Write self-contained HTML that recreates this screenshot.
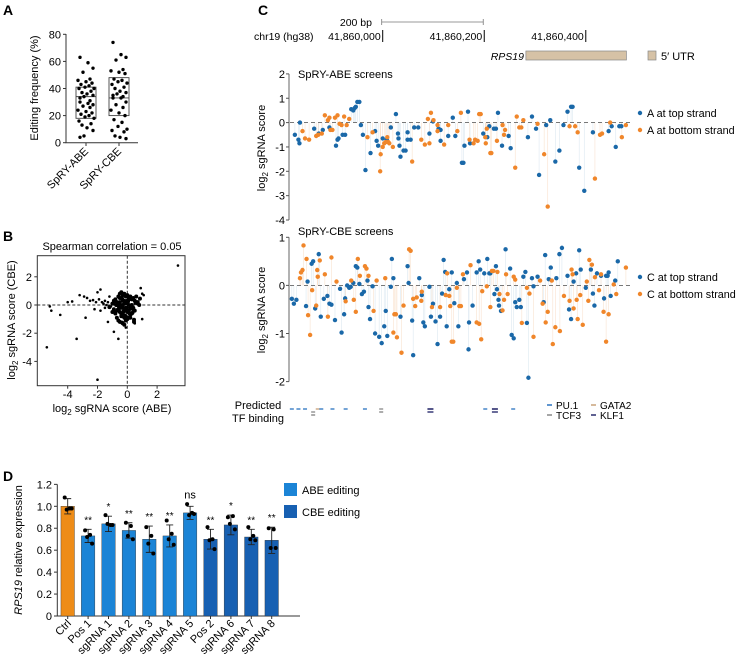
<!DOCTYPE html>
<html><head><meta charset="utf-8">
<style>
html,body{margin:0;padding:0;background:#fff;}
svg{display:block;font-family:"Liberation Sans",Arial,sans-serif;}
</style></head>
<body>
<svg id="fig" width="740" height="661" viewBox="0 0 740 661" xmlns="http://www.w3.org/2000/svg">
<g font-weight="bold" font-size="14" fill="#000">
<text x="3" y="15">A</text>
<text x="3" y="241">B</text>
<text x="258" y="15">C</text>
<text x="3" y="481">D</text>
</g>
<g id="pa"></g>
<g id="pb"></g>
<g id="pc"></g>
<g id="pd"></g>
</svg>
<script>
// ---------- Panel A data ----------
const aCategories = ["SpRY-ABE","SpRY-CBE"];
const aAbeValues = [63,59,55,52,47,46,45,44,43,42,41,40,40,38,37,36,35,34,33,31,30,29,28,27,26,24,23,22,21,20,19,18,16,14,13,11,9,5,4];
const aCbeValues = [74,65,63,61,54,53,52,51,47,46,45,44,43,41,40,38,37,36,35,34,33,33,30,28,26,24,22,20,17,15,12,10,9,8,5,4,3];
const aBoxLow = [18,20];
const aBoxMed = [34,33];
const aBoxHigh = [41,48];
const aTicks = [0,20,40,60,80];

// ---------- Panel B data ----------
const bX = [-2.9,-2.7,-2.5,-2.3,-2.1,-2.0,-1.9,-1.8,-1.7,-1.6,-1.5,-1.4,-1.3,-1.2,-1.1,-2.2,-1.8,-1.5,-1.3,-2.8,-3.2,-4.0,-3.7,-4.5,-5.2,-5.1,-5.4,-3.4,-2.0,3.4,-0.9,-0.6,0.9,1.0,1.1,1.0,0.5,-0.1,
 -1.0,-0.9,-0.8,-0.8,-0.7,-0.7,-0.6,-0.6,-0.6,-0.5,-0.5,-0.5,-0.5,-0.4,-0.4,-0.4,-0.4,-0.3,-0.3,-0.3,-0.3,-0.3,-0.2,-0.2,-0.2,-0.2,-0.2,-0.1,-0.1,-0.1,-0.1,-0.1,0.0,0.0,0.0,0.0,0.1,0.1,0.1,0.1,0.2,0.2,0.2,0.3,0.3,0.3,0.4,0.4,0.5,0.5,0.6,0.7,0.8,-0.9,-0.7,-0.5,-0.3,-0.1,0.1,0.3,0.6,-0.8,-0.4,0.0,0.4,-0.6,-0.2,0.2,-1.0,0.7,-0.45,-0.15,0.15,0.45,
 -0.75,-0.55,-0.35,-0.15,0.05,0.25,0.45,0.65,-0.65,-0.25,0.35,-1.2,-0.95,0.85,-0.05,-0.35,-0.5,0.55];
const bY = [0.6,0.5,0.3,0.35,0.2,0.9,0.4,1.1,0.2,0.1,0.3,0.0,0.2,0.6,-0.1,-0.3,-0.4,-0.2,-1.2,-0.9,0.7,0.2,0.25,-0.7,-0.1,-0.4,-3.0,-2.4,-5.3,2.8,-1.9,-2.4,1.2,0.8,0.7,-1.0,-1.3,-1.6,
 0.1,-0.3,0.4,-0.6,0.0,-0.9,0.6,-0.3,-1.1,0.8,0.2,-0.5,-1.2,0.5,-0.1,-0.7,0.9,0.7,0.3,-0.2,-0.6,-1.3,0.8,0.1,-0.4,-0.9,-1.4,0.6,0.2,-0.2,-0.8,-1.1,0.7,0.3,-0.5,-1.0,0.5,0.0,-0.4,-0.9,0.6,-0.2,-0.7,0.4,0.0,-0.6,0.5,-0.3,0.3,-0.4,0.2,0.1,0.0,0.3,0.2,0.5,0.0,-0.3,0.4,-0.1,0.6,-0.5,-0.8,0.1,-0.2,-0.4,0.3,-0.9,-0.5,0.2,-0.2,0.1,-0.6,-1.2,0.0,
 -0.15,0.45,-0.75,0.25,-0.25,-1.05,0.15,-0.35,-0.45,-0.55,-0.15,0.1,0.45,-0.2,-1.25,0.05,0.15,-0.85];
const bTicks = [-4,-2,0,2];

// ---------- Panel C data (positions: bp offset from chr19:41,860,000) ----------
const cGenomicTicks = [0,200,400];
const cGenomicTickLabels = ["41,860,000","41,860,200","41,860,400"];
const abeTopPos = [-171,-164,-162,-161,-133,-124,-116,-103,-90,-87,-85,-77,-72,-60,-56,-53,-51,-48,-44,-41,-37,-32,-22,-13,-10,-7,2,10,18,28,32,33,35,37,43,47,51,51,57,64,72,94,101,112,116,116,131,140,145,158,161,163,170,174,200,208,212,221,225,229,237,250,254,288,296,304,310,324,332,342,350,358,366,373,376,389,399,416,447,453,461,468,472];
const abeTopVal = [-0.5,-0.7,-0.85,0,-0.25,-0.45,-0.3,-0.2,-0.95,-0.7,-0.65,-0.5,-0.5,0.55,0.5,0.6,0.65,0.85,0.85,-0.1,-0.5,-1.95,-1.25,-0.35,-0.75,-0.95,-0.65,-0.7,-0.2,0.35,-0.45,-0.65,-0.95,-1.4,-1.15,-1.15,-0.4,-0.7,-0.7,-0.2,-0.2,-0.45,0.05,-0.25,-0.3,-0.75,-0.55,0.2,-0.55,-1.65,-1.65,-0.95,0.45,-0.85,-0.45,-0.6,-0.15,-0.25,-0.25,0.4,-0.95,-0.55,-1.05,-0.6,0.25,-0.25,-2.15,-0.1,0.1,-1.6,-1.15,-0.1,0.45,0.65,0.65,-1.85,-2.8,-0.4,-0.35,-0.15,-1.0,-0.15,-0.15];
const abeBotPos = [-156,-151,-143,-129,-125,-118,-112,-106,-103,-101,-97,-92,-87,-83,-79,-74,-69,-64,-28,-18,-3,-2,2,5,8,11,13,15,22,60,78,85,91,94,97,102,110,110,123,131,149,156,173,181,184,189,192,195,204,205,207,214,216,227,238,241,243,263,266,271,275,279,307,320,327,370,381,386,420,430,434,450,473,481];
const abeBotVal = [-0.35,-0.65,-0.7,-0.55,-0.5,-0.45,0.3,0.1,0.2,-0.3,-0.3,0.2,0.3,-0.05,-0.1,0.25,-0.1,0.15,-0.6,-0.4,-2.0,-1.3,-1.0,-0.85,-0.8,-0.6,-0.8,-0.85,-1.0,-1.6,-0.7,-0.9,0.15,-0.85,0.4,0.1,-0.1,-0.35,-0.9,-0.1,-0.35,0.4,-0.7,-0.85,-0.7,-0.75,0.35,0.35,-0.6,-0.85,-0.25,-1.25,-1.25,-0.75,-0.1,-0.5,-0.3,-1.85,0.25,-0.2,-0.2,0.1,-0.05,-1.3,-3.45,-0.15,-0.15,-0.4,-2.3,-0.5,-0.45,0,-0.6,-0.1];
const cbeTopPos = [-177,-173,-168,-149,-146,-138,-135,-131,-124,-120,-114,-107,-103,-99,-92,-82,-79,-74,-72,-68,-64,-61,-56,-51,-48,-44,-39,-35,-28,-26,-23,-18,-13,-5,0,5,8,11,18,20,23,37,51,53,60,62,74,79,82,85,94,97,101,106,110,115,119,122,125,128,133,138,143,148,151,162,168,171,172,179,187,191,194,202,208,212,214,222,225,227,230,231,235,244,253,256,260,263,266,271,274,279,283,286,289,296,299,307,319,322,329,333,344,350,355,366,369,373,378,383,389,392,402,412,416,419,424,432,438,442,445,447,451,460,465];
const cbeTopVal = [-0.28,-0.38,-0.3,-0.43,0.08,0.45,0.5,-0.48,0.65,-0.65,-0.28,-0.22,-0.38,-0.4,-0.72,-0.07,-0.98,-0.6,-0.27,0,-0.05,-0.03,0.05,0.4,0.37,0.03,-0.18,-0.13,0.1,-0.45,-0.7,-0.02,-1.0,-1.07,-1.2,-0.85,-0.53,-1.05,-0.03,0.55,0.15,-0.65,0.4,0.05,-0.73,-1.45,0.15,-0.2,-0.77,-0.85,-0.03,-0.65,-0.38,-0.75,-1.22,-0.65,-0.17,0.53,0.28,-0.85,-0.08,0.27,-0.37,0.05,-0.85,0.13,0.27,-1.33,-0.77,-0.42,0.27,0.5,0.33,0.25,0.55,0.25,0.25,-0.18,0.4,-0.08,-0.3,-0.42,-0.53,0.75,0.35,-1.03,-1.1,-0.35,-0.45,-0.3,-0.45,0.18,0.28,-0.78,-1.92,0.15,-0.02,0.18,-0.35,0.63,0.13,0.37,0.15,0.65,0.78,0.2,-0.5,-0.7,0.08,0.25,0.73,0.33,-0.05,0.33,-0.17,-0.42,0.25,0.2,-0.27,0.2,0.2,0.27,-0.22,0.1,0.5];
const cbeBotPos = [-161,-159,-156,-154,-148,-145,-141,-137,-129,-127,-126,-122,-112,-106,-99,-89,-71,-60,-55,-51,-47,-43,-33,-30,-26,-16,-10,7,23,25,28,30,39,43,54,57,62,66,69,78,79,99,115,126,129,133,135,138,141,148,153,156,160,175,187,192,196,198,207,214,217,220,228,232,238,241,245,248,260,263,276,286,291,299,312,317,323,327,335,337,342,351,359,370,374,376,378,384,386,391,396,404,407,409,414,420,428,432,437,442,447,457,462,481];
const cbeBotVal = [0.15,0.27,0.32,0.83,0.55,-0.62,-1.03,-0.1,-0.42,0.32,0.18,0.52,0.23,-0.65,0.58,0.08,-0.33,0.1,-0.3,-0.55,0.55,0.2,0.4,0.35,0.2,-0.53,0.1,0.15,-0.98,-0.6,-0.6,-1.08,-1.4,-0.42,0.75,0.72,-0.28,-0.43,-0.25,-0.32,-0.13,-0.45,-0.45,-0.2,0.25,-0.22,-0.43,-1.17,-1.17,-0.05,-0.43,-0.43,0.23,0.42,-0.77,-0.8,-1.12,-0.12,-0.02,-0.45,0.3,0.3,0.28,-0.18,-0.52,-0.3,0.23,-0.18,0.18,0.12,-0.78,-0.05,-0.17,-1.07,0.1,-0.38,-0.77,-0.55,0.1,-1.22,-0.87,-0.95,-0.22,-0.32,0.33,0.23,-0.48,-0.3,-0.7,-0.2,-0.82,0.08,-0.32,0.53,0.43,0.17,-0.1,0.23,-0.55,-1.17,-0.6,0.02,-0.18,0.37];
const abeTicks = [2,1,0,-1,-2,-3,-4];
const cbeTicks = [1,0,-1,-2];
const tfPos = [-177,-164,-151,-135,-126,-119,-97,-71,-33,-1,96,204,223,259];
const tfRow = [0,0,0,1,0,0,0,0,0,0,0,0,0,0];
const tfFactor = ["PU.1","PU.1","PU.1","TCF3","GATA2","PU.1","PU.1","PU.1","PU.1","TCF3","KLF1","PU.1","KLF1","PU.1"];

// ---------- Panel D data ----------
const dCategories = ["Ctrl","Pos 1","sgRNA 1","sgRNA 2","sgRNA 3","sgRNA 4","sgRNA 5","Pos 2","sgRNA 6","sgRNA 7","sgRNA 8"];
const dGroups = ["ctrl","abe","abe","abe","abe","abe","abe","cbe","cbe","cbe","cbe"];
const dMeans = [1.0,0.73,0.84,0.78,0.70,0.73,0.94,0.70,0.83,0.72,0.69];
const dErrors = [0.07,0.06,0.07,0.07,0.12,0.10,0.06,0.09,0.09,0.07,0.12];
const dSig = ["","**","*","**","**","**","ns","**","*","**","**"];
const dPoints = [[1.08,0.98,0.97,0.98],[0.78,0.74,0.72,0.66],[0.92,0.83,0.84,0.83],[0.85,0.82,0.73,0.70],[0.81,0.73,0.66,0.57],[0.87,0.75,0.70,0.65],[1.02,0.94,0.92,0.93],[0.81,0.70,0.69,0.61],[0.90,0.91,0.84,0.79],[0.81,0.73,0.70,0.69],[0.80,0.79,0.62,0.62]];
const dTicks = [0,0.2,0.4,0.6,0.8,1.0,1.2];
const dTickLabels = ["0","0.2","0.4","0.6","0.8","1.0","1.2"];

const NS="http://www.w3.org/2000/svg";
function mk(parent, tag, attrs, text){const e=document.createElementNS(NS,tag);for(const k in attrs)e.setAttribute(k,attrs[k]);if(text!==undefined)e.textContent=text;parent.appendChild(e);return e;}

// ===== Panel A =====
(function(){
const g=document.getElementById('pa');
const y=v=>142.7-v*1.355;
const xs=[86,119];
const ax=mk(g,'path',{d:'M66,34 V142.7 H138',stroke:'#333','stroke-width':1,fill:'none'});

aTicks.forEach(t=>{
 const tk=mk(g,'line',{x1:63,x2:66,y1:y(t),y2:y(t),stroke:'#333'});
 
 const tl=mk(g,'text',{x:61,y:y(t)+4,'text-anchor':'end','font-size':11},String(t));
 
});
const yl=mk(g,'text',{transform:'translate(38,88) rotate(-90)','text-anchor':'middle','font-size':11},'Editing frequency (%)');

aCategories.forEach((c,i)=>{
 const tk=mk(g,'line',{x1:xs[i],x2:xs[i],y1:142.7,y2:146,stroke:'#333'});
 
 const tl=mk(g,'text',{transform:`translate(${xs[i]+3},152) rotate(-45)`,'text-anchor':'end','font-size':11},c);
 
 const b=mk(g,'rect',{x:xs[i]-10,y:y(aBoxHigh[i]),width:20,height:y(aBoxLow[i])-y(aBoxHigh[i]),fill:'none',stroke:'#444','stroke-width':0.9});
 
 const m=mk(g,'line',{x1:xs[i]-10,x2:xs[i]+10,y1:y(aBoxMed[i]),y2:y(aBoxMed[i]),stroke:'#444','stroke-width':0.9});
 
});
const jit=[-6,2,7,-3,4,-8,0,6,-5,3,-1,8,-7,5,-4,1,7,-2,-6,4];
[aAbeValues,aCbeValues].forEach((arr,i)=>{
 arr.forEach((v,j)=>{
  const d=mk(g,'circle',{cx:xs[i]+jit[j%jit.length],cy:y(v),r:1.7,fill:'#000'});
  
 });
});
})();

// ===== Panel B =====
(function(){
const g=document.getElementById('pb');
const x=v=>127.3+v*14.9, y=v=>305-v*14.1;
const fr=mk(g,'rect',{x:37.3,y:255.7,width:147.7,height:130,fill:'none',stroke:'#333','stroke-width':1});

const h=mk(g,'line',{x1:37.3,x2:185,y1:y(0),y2:y(0),stroke:'#333','stroke-dasharray':'3,2'});

const v=mk(g,'line',{x1:x(0),x2:x(0),y1:255.7,y2:385.7,stroke:'#333','stroke-dasharray':'3,2'});

bTicks.forEach(t=>{
 const a=mk(g,'line',{x1:x(t),x2:x(t),y1:385.7,y2:388.7,stroke:'#333'});
 
 const al=mk(g,'text',{x:x(t),y:398,'text-anchor':'middle','font-size':11},String(t));
 
});
[2,0,-2,-4].forEach(t=>{
 const a=mk(g,'line',{x1:34.3,x2:37.3,y1:y(t),y2:y(t),stroke:'#333'});
 
 const al=mk(g,'text',{x:32,y:y(t)+4,'text-anchor':'end','font-size':11},String(t));
 
});
bX.forEach((vx,i)=>{
 const d=mk(g,'circle',{cx:x(vx),cy:y(bY[i]),r:i<38?1.3:2.0,fill:'#000'});
 
});
const t=mk(g,'text',{x:112,y:250,'text-anchor':'middle','font-size':11},'Spearman correlation = 0.05');

const xl=mk(g,'text',{x:112,y:412,'text-anchor':'middle','font-size':11});

xl.innerHTML='log<tspan font-size="8" dy="3">2</tspan><tspan dy="-3"> sgRNA score (ABE)</tspan>';
const yl=mk(g,'text',{transform:'translate(15,320) rotate(-90)','text-anchor':'middle','font-size':11});

yl.innerHTML='log<tspan font-size="8" dy="3">2</tspan><tspan dy="-3"> sgRNA score (CBE)</tspan>';
})();

// ===== Panel C =====
(function(){
const g=document.getElementById('pc');
const x=bp=>381.7+bp*0.5077;
const BLUE='#1a68a8', ORANGE='#f0862a';
const sb=mk(g,'path',{d:`M${x(0)},19 V25 M${x(0)},22 H${x(200)} M${x(200)},19 V25`,stroke:'#777','stroke-width':0.8,fill:'none'});

const sbl=mk(g,'text',{x:372,y:26,'text-anchor':'end','font-size':10.5},'200 bp');

const chr=mk(g,'text',{x:254,y:40,'font-size':10.5},'chr19 (hg38)');

cGenomicTicks.forEach((t,i)=>{
 const l=mk(g,'line',{x1:x(t)+1,x2:x(t)+1,y1:30,y2:42,stroke:'#000','stroke-width':1});
 
 const tl=mk(g,'text',{x:x(t)-1,y:40,'text-anchor':'end','font-size':10.5},cGenomicTickLabels[i]);
 
});
const gn=mk(g,'text',{x:524,y:60,'text-anchor':'end','font-size':10.5,'font-style':'italic'},'RPS19');

const utr=mk(g,'rect',{x:x(284),y:51,width:x(482)-x(284),height:9,fill:'#d6c2a6',stroke:'#888','stroke-width':0.7});

const ul=mk(g,'rect',{x:648,y:51,width:8,height:9,fill:'#d6c2a6',stroke:'#888','stroke-width':0.7});

const ult=mk(g,'text',{x:661,y:60,'font-size':11},'5\u2032 UTR');


function panel(y0,ppu,ticks,title,titleY,topPos,topVal,botPos,botVal,legTop,legBot,legY,yTitleY,name){
 const y=v=>y0-v*ppu;
 const ymax=y(ticks[0]), ymin=y(ticks[ticks.length-1]);
 const ax=mk(g,'line',{x1:289,x2:289,y1:ymax,y2:ymin,stroke:'#555','stroke-width':0.9});
 
 ticks.forEach(t=>{
  const tk=mk(g,'line',{x1:286,x2:289,y1:y(t),y2:y(t),stroke:'#555'});
  
  const tl=mk(g,'text',{x:285,y:y(t)+4,'text-anchor':'end','font-size':11},String(t));
  
 });
 const yl=mk(g,'text',{transform:`translate(265,${yTitleY}) rotate(-90)`,'text-anchor':'middle','font-size':11});
 
 yl.innerHTML='log<tspan font-size="8" dy="3">2</tspan><tspan dy="-3"> sgRNA score</tspan>';
 const tt=mk(g,'text',{x:298,y:titleY,'font-size':11},title);
 
 [[topPos,topVal,'#dce8f1'],[botPos,botVal,'#f9e2cf']].forEach(([P,V,sc])=>{
  P.forEach((p,i)=>{const s=mk(g,'line',{x1:x(p),x2:x(p),y1:y(0),y2:y(V[i]),stroke:sc,'stroke-width':0.6});
   });
 });
 const z=mk(g,'line',{x1:290,x2:632,y1:y(0),y2:y(0),stroke:'#666','stroke-dasharray':'4,3','stroke-width':0.9});
 
 [[topPos,topVal,BLUE,'top-strand-point'],[botPos,botVal,ORANGE,'bottom-strand-point']].forEach(([P,V,c,n])=>{
  P.forEach((p,i)=>{const d=mk(g,'circle',{cx:x(p),cy:y(V[i]),r:2.2,fill:c});
   });
 });
 [[legTop,BLUE,legY],[legBot,ORANGE,legY+17]].forEach(([t,c,ly])=>{
  const d=mk(g,'circle',{cx:640,cy:ly-4,r:2.2,fill:c});
  
  const tx=mk(g,'text',{x:647,y:ly,'font-size':10.8},t);
  
 });
}
panel(122.6,24.35,abeTicks,'SpRY-ABE screens',78,abeTopPos,abeTopVal,abeBotPos,abeBotVal,'A at top strand','A at bottom strand',117,148,'abe');
panel(285.4,48.1,cbeTicks,'SpRY-CBE screens',235,cbeTopPos,cbeTopVal,cbeBotPos,cbeBotVal,'C at top strand','C at bottom strand',281,310,'cbe');

const tfCol={"PU.1":"#2a72c0","TCF3":"#888","GATA2":"#c9a27a","KLF1":"#2b2d6e"};
const p1=mk(g,'text',{x:258,y:409,'text-anchor':'middle','font-size':11},'Predicted');

const p2=mk(g,'text',{x:258,y:422,'text-anchor':'middle','font-size':11},'TF binding');

tfPos.forEach((p,i)=>{
 const f=tfFactor[i]; const yy=409+tfRow[i]*3;
 const w=f==="KLF1"?6:4;
 const d=mk(g,'line',{x1:x(p)-w/2,x2:x(p)+w/2,y1:yy,y2:yy,stroke:tfCol[f],'stroke-width':f==="KLF1"?1.6:1.3});
 
 if(f==="KLF1"||f==="TCF3"){const d2=mk(g,'line',{x1:x(p)-w/2,x2:x(p)+w/2,y1:yy+3,y2:yy+3,stroke:tfCol[f],'stroke-width':1.4});
  }
});
[["PU.1",547,409],["GATA2",591,409],["TCF3",547,419],["KLF1",591,419]].forEach(([f,lx,ly])=>{
 const d=mk(g,'line',{x1:lx,x2:lx+5,y1:ly-4,y2:ly-4,stroke:tfCol[f],'stroke-width':1.5});
 
 const t=mk(g,'text',{x:lx+9,y:ly,'font-size':10},f);
 
});
})();

// ===== Panel D =====
(function(){
const g=document.getElementById('pd');
const y=v=>616-v*109.7;
const x0=67.7, step=20.4, bw=13.5;
const col={ctrl:'#ee8c17',abe:'#1b84d6',cbe:'#1760b2'};
const ax=mk(g,'path',{d:`M57.3,${y(1.2)} V616 H300`,stroke:'#333','stroke-width':1,fill:'none'});

dTicks.forEach((t,i)=>{
 const tk=mk(g,'line',{x1:54,x2:57.3,y1:y(t),y2:y(t),stroke:'#333'});
 
 const tl=mk(g,'text',{x:52,y:y(t)+4,'text-anchor':'end','font-size':11},dTickLabels[i]);
 
});
const yl=mk(g,'text',{transform:'translate(22,550) rotate(-90)','text-anchor':'middle','font-size':11});

yl.innerHTML='<tspan font-style="italic">RPS19</tspan> relative expression';
const dj=[-3,2,-1,4];
dCategories.forEach((c,i)=>{
 const cx=x0+i*step;
 const b=mk(g,'rect',{x:cx-bw/2,y:y(dMeans[i]),width:bw,height:616-y(dMeans[i]),fill:col[dGroups[i]],stroke:'#333','stroke-width':0.4});
 
 const e=mk(g,'path',{d:`M${cx},${y(dMeans[i]-dErrors[i])} V${y(dMeans[i]+dErrors[i])} M${cx-3.5},${y(dMeans[i]+dErrors[i])} H${cx+3.5} M${cx-3.5},${y(dMeans[i]-dErrors[i])} H${cx+3.5}`,stroke:'#222','stroke-width':0.9,fill:'none'});
 
 dPoints[i].forEach((v,j)=>{
  const p=mk(g,'circle',{cx:cx+dj[j],cy:y(v),r:2,fill:'#000'});
  
 });
 if(dSig[i]){
  const s=mk(g,'text',{x:cx,y:y(dMeans[i]+dErrors[i])-(dSig[i]==='ns'?8:6),'text-anchor':'middle','font-size':dSig[i]==='ns'?11:10},dSig[i]);
  
 }
 const tk=mk(g,'line',{x1:cx,x2:cx,y1:616,y2:619,stroke:'#333'});
 
 const tl=mk(g,'text',{transform:`translate(${cx+4},624) rotate(-45)`,'text-anchor':'end','font-size':11},c);
 
});
[["ABE editing",col.abe,483],["CBE editing",col.cbe,505]].forEach(([t,c,ly])=>{
 const r=mk(g,'rect',{x:284,y:ly,width:13,height:13,fill:c});
 
 const tx=mk(g,'text',{x:302,y:ly+11,'font-size':11},t);
 
});
})();
</script>
</body></html>
